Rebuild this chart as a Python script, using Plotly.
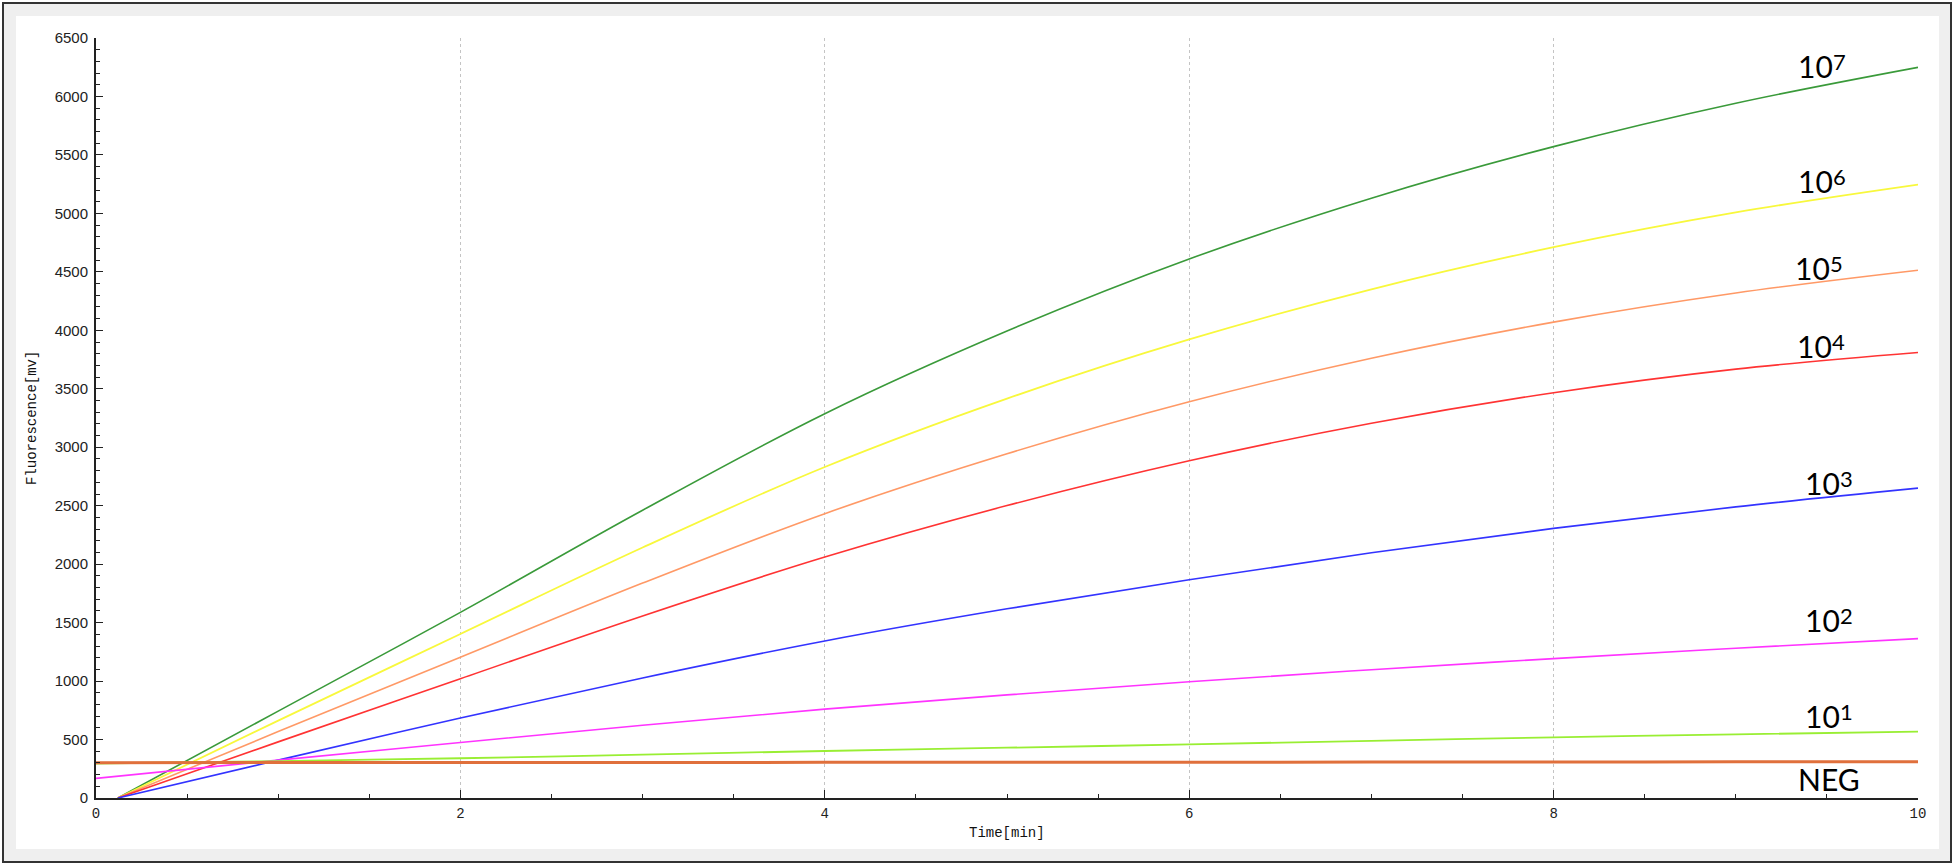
import plotly.graph_objects as go

# ---------------- data ----------------
t_rise = [0.12, 1, 2, 3, 4, 5, 6, 7, 8, 9, 10]
t_flat = [0, 1, 2, 3, 4, 5, 6, 7, 8, 9, 10]

s1e7 = [0, 743, 1588, 2461, 3287, 3994, 4610, 5130, 5571, 5942, 6249]
s1e6 = [0, 662, 1403, 2142, 2831, 3416, 3922, 4351, 4711, 5008, 5246]
s1e5 = [0, 568, 1204, 1838, 2432, 2944, 3389, 3761, 4070, 4319, 4514]
s1e4 = [0, 480, 1020, 1557, 2061, 2501, 2884, 3205, 3466, 3668, 3810]
s1e3 = [0, 324, 684, 1027, 1343, 1618, 1866, 2097, 2306, 2490, 2650]
s1e2 = [168, 324, 475, 622, 760, 882, 994, 1097, 1192, 1281, 1363]
s1e1 = [295, 316, 340, 371, 402, 430, 459, 489, 519, 544, 568]
neg = [302, 303, 303, 304, 305, 305, 306, 307, 308, 309, 310]

series_names = ["10^7", "10^6", "10^5", "10^4", "10^3", "10^2", "10^1", "NEG"]
label_base = ["10", "10", "10", "10", "10", "10", "10", "NEG"]
label_exp = ["7", "6", "5", "4", "3", "2", "1", ""]

x_ticks = [0, 2, 4, 6, 8, 10]
y_ticks = list(range(0, 6501, 500))

# ---------------- styling ----------------
W, H = 1956, 867
ML, MR, MT, MB = 96, 38, 38, 69
PW, PH = W - ML - MR, H - MT - MB


def px_x(x):
    return (x - ML) / PW


def px_y(y):
    return (H - MB - y) / PH


colors = ["#3a9a3a", "#f8f83c", "#ff9966", "#ff3333", "#3333ff", "#ff33ff", "#99ee33", "#e0703c"]
widths = [1.6, 1.8, 1.6, 1.6, 1.6, 1.6, 1.8, 3.0]

fig = go.Figure()
data = [(t_rise, s1e7), (t_rise, s1e6), (t_rise, s1e5), (t_rise, s1e4),
        (t_rise, s1e3), (t_flat, s1e2), (t_flat, s1e1), (t_flat, neg)]
for (tx, ty), name, c, w in zip(data, series_names, colors, widths):
    fig.add_trace(go.Scatter(x=tx, y=ty, mode="lines", name=name,
                             line=dict(color=c, width=w, shape="spline", smoothing=1.0),
                             showlegend=False, hoverinfo="x+y+name"))

# label placement in pixels: (left edge of ink, vertical centre of digits)
label_px = [(1800, 66), (1800, 181), (1797, 268), (1799, 346),
            (1807, 483), (1807, 620), (1807, 716), (1800, 779)]
annotations = []
for base, ex, (lx, ly) in zip(label_base, label_exp, label_px):
    annotations.append(dict(text=base, xref="paper", yref="paper", x=px_x(lx - 4), y=px_y(ly),
                            xanchor="left", yanchor="middle", showarrow=False,
                            font=dict(family="Lato", size=30, color="#000000")))
    if ex:
        annotations.append(dict(text=ex, xref="paper", yref="paper", x=px_x(lx + 31), y=px_y(ly - 5),
                                xanchor="left", yanchor="middle", showarrow=False,
                                font=dict(family="Lato", size=22, color="#000000")))

annotations.append(dict(text="Time[min]", xref="paper", yref="paper", x=0.5, y=px_y(833),
                        xanchor="center", yanchor="middle", showarrow=False,
                        font=dict(family="Liberation Mono", size=14, color="#111111")))
annotations.append(dict(text="Fluorescence[mv]", xref="paper", yref="paper", x=px_x(32), y=0.5,
                        xanchor="center", yanchor="middle", showarrow=False, textangle=-90,
                        font=dict(family="Liberation Mono", size=14, color="#111111")))

shapes = [
    dict(type="rect", xref="paper", yref="paper", layer="below",
         x0=px_x(3), x1=px_x(1951), y0=px_y(862), y1=px_y(3),
         line=dict(color="#333333", width=2), fillcolor="#efefef"),
    dict(type="rect", xref="paper", yref="paper", layer="below",
         x0=px_x(16), x1=px_x(1939), y0=px_y(849), y1=px_y(16),
         line=dict(width=0), fillcolor="#ffffff"),
]

fig.update_layout(
    width=W, height=H,
    margin=dict(l=ML, r=MR, t=MT, b=MB, pad=0),
    paper_bgcolor="#ffffff", plot_bgcolor="#ffffff",
    annotations=annotations, shapes=shapes,
    showlegend=False,
)
fig.update_xaxes(
    range=[0, 10], tickvals=x_ticks, ticktext=[str(v) for v in x_ticks],
    showline=True, linecolor="#222222", linewidth=2, mirror=False,
    ticks="inside", ticklen=8, tickwidth=1, tickcolor="#222222",
    minor=dict(dtick=0.5, ticks="inside", ticklen=4, tickwidth=1, tickcolor="#222222", showgrid=False),
    showgrid=True, gridcolor="#c4c4c4", griddash="dot", gridwidth=1,
    zeroline=False, automargin=False,
    tickfont=dict(family="Liberation Mono", size=14, color="#222222"),
    ticklabelstandoff=1,
)
fig.update_yaxes(
    range=[0, 6500], tickvals=y_ticks, ticktext=[str(v) for v in y_ticks],
    showline=True, linecolor="#222222", linewidth=2,
    ticks="inside", ticklen=7, tickwidth=1, tickcolor="#222222",
    minor=dict(dtick=100, ticks="inside", ticklen=4, tickwidth=1, tickcolor="#222222", showgrid=False),
    showgrid=False, zeroline=False, automargin=False,
    tickfont=dict(family="Liberation Sans", size=15, color="#222222"),
    ticklabelstandoff=3,
)

fig.write_html("out.html", config={"displayModeBar": False},
               post_script="document.body.style.margin='0px';document.body.style.overflow='hidden';")
